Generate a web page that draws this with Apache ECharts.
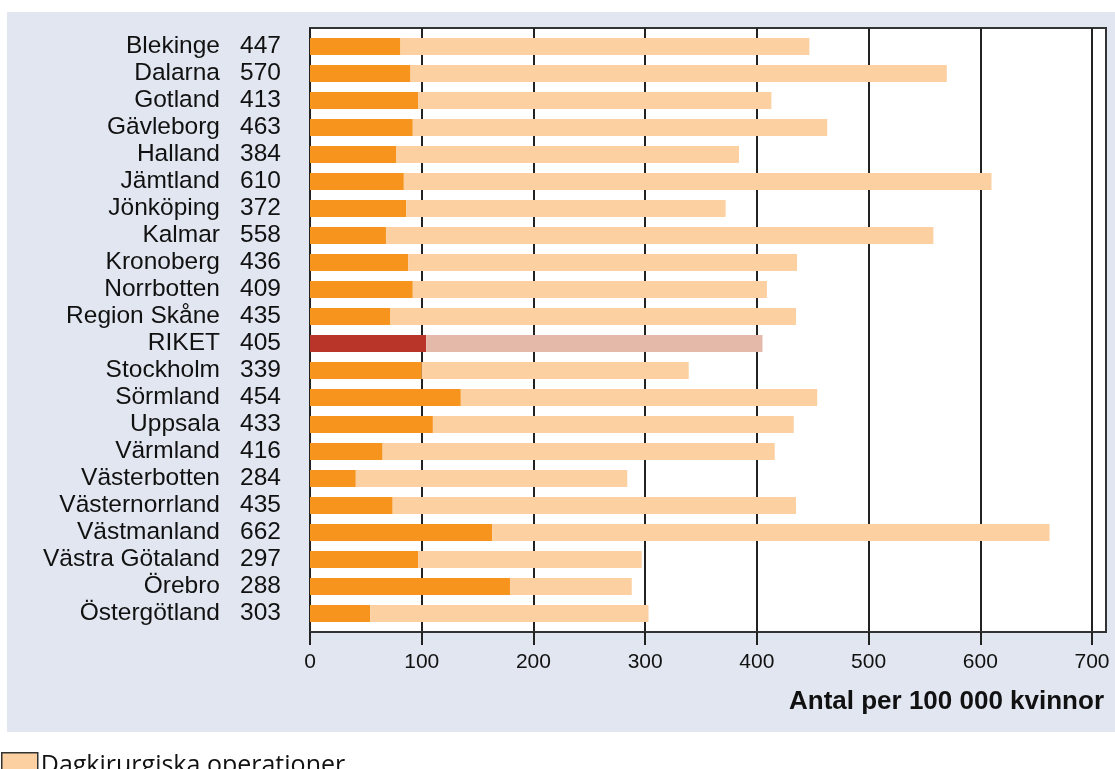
<!DOCTYPE html>
<html>
<head>
<meta charset="utf-8">
<script src="https://cdn.jsdelivr.net/npm/echarts@6/dist/echarts.min.js"></script>
<style>
  html, body { margin: 0; padding: 0; background: #ffffff; }
  #chart { width: 1115px; height: 769px; }
</style>
</head>
<body>
<div id="chart"></div>
<script>
// Regions (län) listed top to bottom
const regions = ['Blekinge', 'Dalarna', 'Gotland', 'Gävleborg', 'Halland', 'Jämtland', 'Jönköping',
  'Kalmar', 'Kronoberg', 'Norrbotten', 'Region Skåne', 'RIKET', 'Stockholm', 'Sörmland', 'Uppsala',
  'Värmland', 'Västerbotten', 'Västernorrland', 'Västmanland', 'Västra Götaland', 'Örebro', 'Östergötland'];

// Total operations per 100 000 women (printed next to each name)
const totals = [447, 570, 413, 463, 384, 610, 372, 558, 436, 409, 435, 405, 339, 454, 433, 416, 284, 435, 662, 297, 288, 303];

// Inpatient part of the total (dark segment)
const inpatient = [81, 90, 97, 92, 77, 84, 86, 68, 88, 92, 72, 104, 100, 135, 110, 65, 41, 74, 163, 97, 179, 54];

// Tick values on the value axis
const ticks = [0, 100, 200, 300, 400, 500, 600, 700];

const axisTitle = 'Antal per 100 000 kvinnor';
const dayName = 'Dagkirurgiska operationer';
const inpatientName = 'Slutenvård';
const nationalLabel = 'RIKET';

// Day-surgery part = total minus inpatient part
const daySurgery = totals.map((t, i) => t - inpatient[i]);

const colors = {
  dark: '#F7941E',
  light: '#FDD0A2',
  natDark: '#B9352A',
  natLight: '#E5B9A9'
};

const font = "Arial, 'Liberation Sans', sans-serif";

const chart = echarts.init(document.getElementById('chart'), null, { renderer: 'canvas' });

chart.setOption({
  animation: false,
  backgroundColor: '#ffffff',
  graphic: [{
    type: 'rect',
    z: -10,
    silent: true,
    shape: { x: 7, y: 12, width: 1108, height: 720 },
    style: { fill: '#E1E6F0' }
  }],
  title: {
    text: axisTitle,
    right: 6,
    top: 684,
    textStyle: { fontFamily: font, fontSize: 26, fontWeight: 'bold', color: '#111' }
  },
  legend: {
    data: [dayName],
    left: -4,
    top: 747,
    icon: 'rect',
    itemWidth: 36,
    itemHeight: 26,
    itemGap: 4,
    itemStyle: { borderColor: '#333', borderWidth: 1.5 },
    textStyle: { fontFamily: "'Open Sans', sans-serif", fontSize: 25, color: '#111', padding: [0, 0, 0, -2] },
    selectedMode: false
  },
  grid: [
    { // frame, grid lines and value axis
      left: 310, right: 9, top: 28, bottom: 137,
      show: true, backgroundColor: '#ffffff', borderColor: '#333', borderWidth: 2
    },
    { // bars
      left: 310, right: 9, top: 33, bottom: 142
    }
  ],
  xAxis: [
    {
      gridIndex: 0,
      type: 'value',
      min: 0,
      max: 712.5,
      axisLine: { show: true, lineStyle: { color: '#333', width: 2 } },
      axisTick: { show: true, length: 13, customValues: ticks, lineStyle: { color: '#222', width: 2 } },
      splitLine: { show: true, lineStyle: { color: '#222', width: 2 } },
      axisLabel: {
        customValues: ticks,
        margin: 20,
        fontFamily: font,
        fontSize: 21,
        color: '#111'
      }
    },
    {
      gridIndex: 1,
      type: 'value',
      min: 0,
      max: 712.5,
      show: false
    }
  ],
  yAxis: [
    { gridIndex: 0, type: 'value', show: false },
    {
      gridIndex: 1,
      type: 'category',
      inverse: true,
      data: regions,
      axisLine: { show: false },
      axisTick: { show: false },
      splitLine: { show: false },
      axisLabel: {
        margin: 29,
        formatter: (v, i) => '{n|' + v + '}{v|' + totals[i] + '}',
        rich: {
          n: { fontFamily: font, fontSize: 24.5, color: '#111', align: 'right' },
          v: { fontFamily: font, fontSize: 24.5, color: '#111', align: 'right', width: 61 }
        }
      }
    }
  ],
  series: [
    {
      name: inpatientName,
      type: 'bar',
      stack: 'total',
      xAxisIndex: 1,
      yAxisIndex: 1,
      barWidth: 17,
      itemStyle: { color: colors.dark },
      data: inpatient.map((v, i) => regions[i] === nationalLabel
        ? { value: v, itemStyle: { color: colors.natDark } } : v)
    },
    {
      name: dayName,
      type: 'bar',
      stack: 'total',
      xAxisIndex: 1,
      yAxisIndex: 1,
      barWidth: 17,
      itemStyle: { color: colors.light },
      data: daySurgery.map((v, i) => regions[i] === nationalLabel
        ? { value: v, itemStyle: { color: colors.natLight } } : v)
    }
  ]
});
</script>
</body>
</html>
